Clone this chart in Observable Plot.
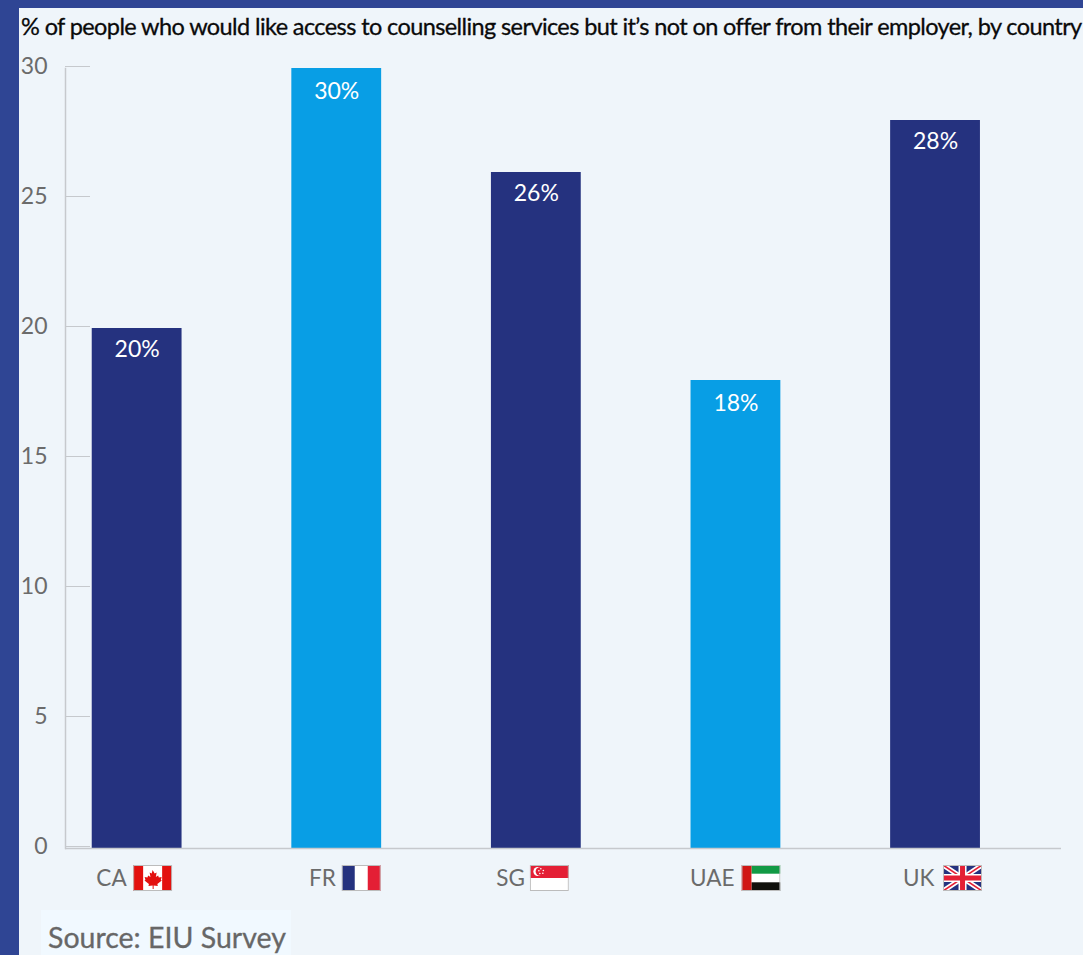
<!DOCTYPE html>
<html>
<head>
<meta charset="utf-8">
<script src="https://cdn.jsdelivr.net/npm/d3@7"></script>
<script src="https://cdn.jsdelivr.net/npm/@observablehq/plot@0.6"></script>
<style>
html,body{margin:0;padding:0;background:#2f4594;height:955px;overflow:hidden}
#panel{position:absolute;left:19px;top:8px;width:1064px;height:947px;background:#eff5fa;font-family:Lato,sans-serif}
#sub{height:37px;line-height:37px;padding-left:2px;font-size:23.5px;color:#0a0a0a;white-space:nowrap;letter-spacing:-0.6px;-webkit-text-stroke:0.3px #0a0a0a}
#src{position:absolute;left:22px;top:902px;width:250px;height:45px;background:#f1f9ff;color:#676767;font-size:28.5px;line-height:54px;padding-left:7px;box-sizing:border-box;white-space:nowrap;-webkit-text-stroke:0.3px #676767}
svg{display:block}
</style>
</head>
<body>
<div id="panel">
<div id="sub">% of people who would like access to counselling services but it’s not on offer from their employer, by country</div>
<div id="chart"></div>
<div id="src">Source: EIU Survey</div>
</div>
<script>
const countries = ["CA","FR","SG","UAE","UK"];
const shares = [20,30,26,18,28];
const highlighted = ["FR","UAE"];
const yTicks = [0,5,10,15,20,25,30];

const wrap = s => "data:image/svg+xml," + encodeURIComponent(
  `<svg xmlns="http://www.w3.org/2000/svg" viewBox="0 0 39 26" preserveAspectRatio="none">${s}<rect x=".5" y=".5" width="38" height="25" fill="none" stroke="#bcbcbc"/></svg>`);
const flags = {
  CA: wrap(`<rect width="39" height="26" fill="#fff"/><rect width="10" height="26" fill="#e3110f"/><rect x="29" width="10" height="26" fill="#e3110f"/><path d="M19.5 5l2 3.5 2-1-.8 4.500 2.300-1.500.7 2 2.800-.4-.8 2.800 1 .6-4.500 3.600.5 1.900-4.200-.6v3.600h-1v-3.600l-4.200.6.500-1.900-4.500-3.600 1-.6-.8-2.800 2.800.4.700-2 2.300 1.500-.8-4.500 2 1z" fill="#e3110f"/>`),
  FR: wrap(`<rect width="39" height="26" fill="#fff"/><rect width="13" height="26" fill="#25327f"/><rect x="26" width="13" height="26" fill="#e41f35"/>`),
  SG: wrap(`<rect width="39" height="26" fill="#fff"/><rect width="39" height="13" fill="#e41f35"/><circle cx="8" cy="6.500" r="4.500" fill="#fff"/><circle cx="10" cy="6.500" r="4.200" fill="#e41f35"/><g fill="#fff"><circle cx="11" cy="3.800" r=".8"/><circle cx="13.500" cy="5.500" r=".8"/><circle cx="13" cy="8.200" r=".8"/><circle cx="10" cy="8.500" r=".8"/><circle cx="9" cy="5.800" r=".8"/></g>`),
  UAE: wrap(`<rect width="39" height="26" fill="#fff"/><rect x="10" width="29" height="8.700" fill="#129a45"/><rect x="10" y="17.300" width="29" height="8.700" fill="#11110c"/><rect width="10" height="26" fill="#d01714"/>`),
  UK: wrap(`<rect width="39" height="26" fill="#25327f"/><path d="M0 0L39 26M39 0L0 26" stroke="#fff" stroke-width="5"/><path d="M0 0L39 26M39 0L0 26" stroke="#e41f35" stroke-width="1.600"/><path d="M19.500 0V26M0 13H39" stroke="#fff" stroke-width="8"/><path d="M19.500 0V26M0 13H39" stroke="#e41f35" stroke-width="5"/>`)
};
const labelShift = {CA:[-10.5,15.5],FR:[-1,24.5],SG:[-11.5,13],UAE:[-1.5,25],UK:[-1,27]};

const rows = countries.map((c,i)=>({country:c,share:shares[i]}));
const isHi = d=>highlighted.includes(d.country);

const plot = Plot.plot({
  width:1064,height:861,
  marginLeft:46,marginRight:22,marginTop:23,marginBottom:58,
  style:{background:"transparent",fontFamily:"Lato,sans-serif"},
  x:{domain:countries,paddingInner:0.55,paddingOuter:0.27,align:0.248,round:false,axis:null},
  y:{domain:[0,30],axis:null},
  marks:[
    Plot.barY(rows,{x:"country",y:"share",fill:d=>isHi(d)?"#089ee5":"#25327f"}),
    Plot.frame({anchor:"left",stroke:"#c6c9cd",strokeWidth:1.5}),
    Plot.ruleY([0],{stroke:"#c6c9cd",strokeWidth:1.5}),
    Plot.axisY({ticks:yTicks,tickSize:-25,tickPadding:43,stroke:"#c6c9cd",fontSize:23,fill:"#6b6b6b",label:null,dy:-2,tickFormat:d=>d}),
    Plot.text(rows.filter(isHi),{x:"country",y:"share",text:d=>d.share+"%",fill:"#fff",fontSize:23,dy:23}),
    Plot.text(rows.filter(d=>!isHi(d)),{x:"country",y:"share",text:d=>d.share+"%",fill:"#fff",fontSize:23,dy:21}),
    ...rows.flatMap(d=>[
      Plot.text([d],{x:"country",text:"country",frameAnchor:"bottom",textAnchor:"end",dx:labelShift[d.country][0],dy:37,fill:"#6b6b6b",fontSize:22.5}),
      Plot.image([d],{x:"country",src:r=>flags[r.country],frameAnchor:"bottom",dx:labelShift[d.country][1],dy:29.5,width:39,height:26,preserveAspectRatio:"none"})
    ])
  ]
});
document.getElementById("chart").appendChild(plot);
</script>
</body>
</html>
